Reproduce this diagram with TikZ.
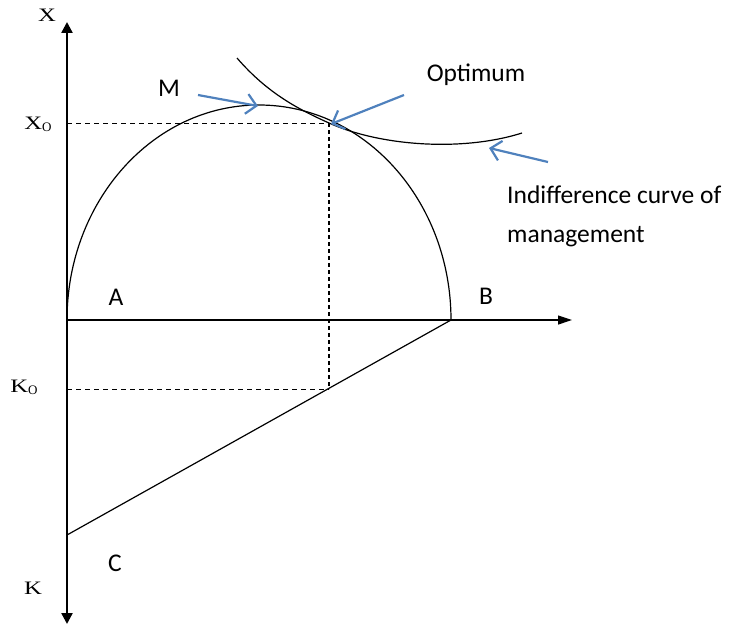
\documentclass[tikz,border=0pt]{standalone}
\usepackage{fontspec}
\usepackage{graphicx}
\setmainfont{Carlito}
\newfontfamily\axfont{Liberation Serif}
\usepackage{tikz}
\usetikzlibrary{arrows.meta}
\definecolor{cBlue}{HTML}{4F81BD}
\newcommand{\axX}{\scalebox{1.3}[1]{X}}
\newcommand{\axK}{\scalebox{1.3}[1]{K}}
\newcommand{\subO}{\lower2pt\hbox{\fontsize{13}{13}\selectfont O}}
\tikzset{
  axis/.style    = {line width=2.4pt, -{Triangle[length=11pt,width=11pt]}},
  curve/.style   = {line width=1.2pt},
  guide/.style   = {line width=0.9pt, dash pattern=on 5pt off 4pt},
  guidev/.style  = {line width=1.5pt, dash pattern=on 4pt off 3pt},
  pointer/.style = {draw=cBlue, line width=2.2pt,
                    -{Straight Barb[length=10pt,width=20pt,line width=2.2pt]}},
  axlab/.style   = {font=\axfont\fontsize{19}{19}\selectfont, inner sep=0pt},
  txt/.style     = {font=\fontsize{25.5}{39}\selectfont, inner sep=0pt},
}
\begin{document}
\begin{tikzpicture}[x=1pt,y=-1pt]
  \useasboundingbox (0,0) rectangle (735,626);

  % points
  \coordinate (O)    at (67,320);
  \coordinate (xtop) at (67,22);
  \coordinate (kbot) at (67,624);
  \coordinate (xend) at (572,320);
  \coordinate (Bpt)  at (451,320);
  \coordinate (Cpt)  at (67,535);
  \coordinate (opt)  at (329,123);
  \coordinate (Mpt)  at (258,106);
  \coordinate (Kpt)  at (329,389);
  \coordinate (xo)   at (67,123);
  \coordinate (ko)   at (67,389);
  \coordinate (icA)  at (237,58);
  \coordinate (icB)  at (522,133);

  % axes
  \draw[axis] (O) -- (xtop);
  \draw[axis] (O) -- (kbot);
  \draw[line width=1.2pt, -{Triangle[length=14pt,width=9pt]}] (O) -- (xend);

  % frontier and budget line
  \draw[curve] (O) arc[start angle=180, end angle=0, x radius=192pt, y radius=215pt];
  \draw[curve] (Bpt) -- (Cpt);

  % indifference curve
  \draw[curve] (icA) .. controls (268,94) and (300,110) .. (opt)
                     .. controls (380,146) and (462,152) .. (icB);

  % guides
  \draw[guide]  (xo) -- (opt);
  \draw[guide]  (ko) -- (Kpt);
  \draw[guidev] (opt) -- (Kpt);

  % pointers
  \coordinate (mtail)   at (198,95);
  \coordinate (otail)   at (404,95);
  \coordinate (itail)   at (548,162);
  \coordinate (ichead)  at (489,148);
  \draw[pointer] (mtail) -- (Mpt);
  \draw[pointer] (otail) -- ([xshift=2pt,yshift=-1pt]opt);
  \draw[pointer] (itail) -- (ichead);

  % labels
  \node[axlab] (labX)  at (47,15)  {\axX};
  \node[axlab] (labXo) at (38,124) {\axX\subO};
  \node[axlab] (labKo) at (24,387) {\axK\subO};
  \node[axlab] (labK)  at (33,588) {\axK};
  \node[txt] (labM)   at (169,88)  {M};
  \node[txt] (labOpt) at (476,75)  {Optimum};
  \node[txt] (labA)   at (116,297) {A};
  \node[txt] (labB)   at (486,296) {B};
  \node[txt] (labC)   at (115,563) {C};
  \node[txt, align=left, anchor=west] (labIC) at (507,216)
    {Indifference curve of\\management};
\end{tikzpicture}
\end{document}
